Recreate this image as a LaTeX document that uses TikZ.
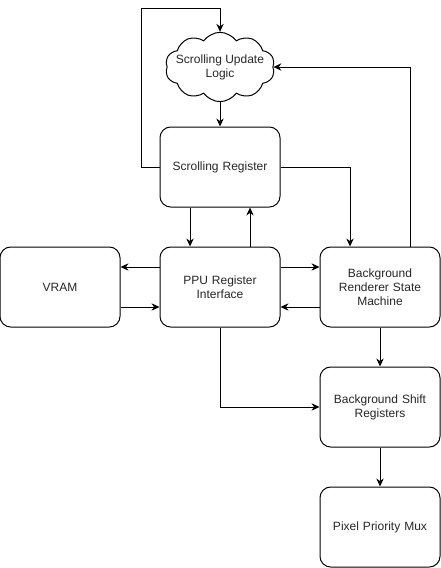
\documentclass[tikz,border=0pt]{standalone}
\usepackage{fontspec}
\setmainfont{Liberation Sans}
\usepackage{tikz}
\usetikzlibrary{arrows.meta, positioning, shapes.symbols, calc}

\begin{document}
\begin{tikzpicture}[
  x=0.75pt, y=-0.75pt,
  arr/.style={-{Stealth[length=6pt, width=5.5pt]}, line width=0.75pt},
  block/.style={draw, line width=0.75pt, rounded corners=8pt, minimum width=90pt,
                minimum height=60pt, font=\fontsize{9}{10.5}\selectfont, text=black!85,
                align=center, text width=80pt},
  logic/.style={draw, cloud, cloud puffs=10, cloud puff arc=110, aspect=1.6,
                line width=0.75pt, minimum width=82pt, minimum height=52pt,
                inner xsep=-9pt, inner ysep=-5pt,
                font=\fontsize{9}{10.5}\selectfont, text=black!85, align=center},
]
\useasboundingbox (0,0) rectangle (441,568);

% Blocks
\node[logic] (scrlogic) at (220,67) {Scrolling Update\\Logic};
\node[block] (scrreg) at (220,167) {Scrolling Register};
\node[block] (vram) at (60,287) {VRAM};
\node[block] (ppuif) at (220,287) {PPU Register\\Interface};
\node[block] (bgfsm) at (380,287) {Background\\Renderer State\\Machine};
\node[block] (bgshift) at (380,407) {Background Shift\\Registers};
\node[block] (pixmux) at (380,527) {Pixel Priority Mux};

% Scrolling loop
\coordinate (looptop) at (141,8);
\draw[arr] (scrreg.west) -| (looptop) -| (scrlogic.north);
\draw[arr] (scrlogic.south) -- (scrreg.north);
\draw[arr] ($(bgfsm.north)+(30,0)$) |- (scrlogic.east);
\draw[arr] (scrreg.east) -| ($(bgfsm.north)+(-30,0)$);

% Register interface
\draw[arr] ($(scrreg.south)+(-30,0)$) -- ($(ppuif.north)+(-30,0)$);
\draw[arr] ($(ppuif.north)+(30,0)$) -- ($(scrreg.south)+(30,0)$);
\draw[arr] ($(ppuif.west)+(0,-20)$) -- ($(vram.east)+(0,-20)$);
\draw[arr] ($(vram.east)+(0,20)$) -- ($(ppuif.west)+(0,20)$);
\draw[arr] ($(ppuif.east)+(0,-20)$) -- ($(bgfsm.west)+(0,-20)$);
\draw[arr] ($(bgfsm.west)+(0,20)$) -- ($(ppuif.east)+(0,20)$);
\draw[arr] (ppuif.south) |- (bgshift.west);

% Pixel path
\draw[arr] (bgfsm.south) -- (bgshift.north);
\draw[arr] (bgshift.south) -- (pixmux.north);

\end{tikzpicture}
\end{document}
